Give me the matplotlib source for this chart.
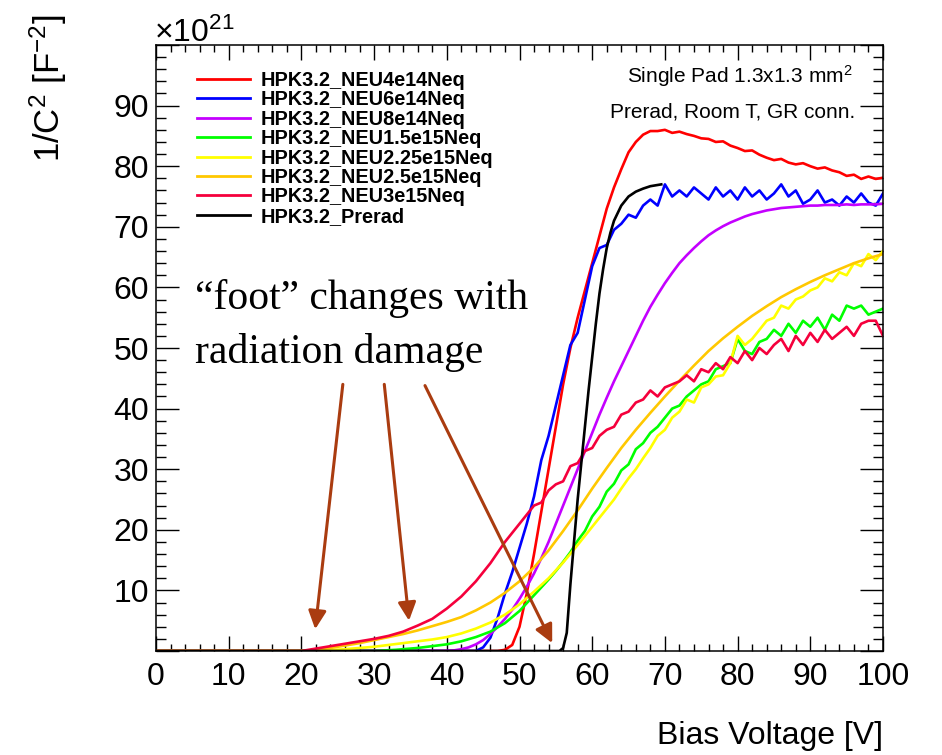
import matplotlib
matplotlib.use("Agg")
import matplotlib.pyplot as plt
from matplotlib.ticker import MultipleLocator, FixedLocator, FixedFormatter
import numpy as np

plt.rcParams['font.family'] = ['Liberation Sans', 'DejaVu Sans']
plt.rcParams['mathtext.fontset'] = 'custom'
plt.rcParams['mathtext.rm'] = 'Liberation Sans'
plt.rcParams['mathtext.it'] = 'Liberation Sans:italic'
plt.rcParams['mathtext.bf'] = 'Liberation Sans:bold'

# ---------------- data ----------------
labels = ["HPK3.2_NEU4e14Neq", "HPK3.2_NEU6e14Neq", "HPK3.2_NEU8e14Neq",
          "HPK3.2_NEU1.5e15Neq", "HPK3.2_NEU2.25e15Neq", "HPK3.2_NEU2.5e15Neq",
          "HPK3.2_NEU3e15Neq", "HPK3.2_Prerad"]
colors = ["#ff0000", "#0000ff", "#c400ff", "#00ff00", "#ffff00", "#ffc800",
          "#f5003c", "#000000"]

v_4e14 = [0] + list(range(47, 101))
y_4e14 = [0, 0, 0.2, 1, 4, 9.5, 16, 23, 30, 37, 44, 50, 55, 59.5, 64, 68.5,
          73, 76.5, 79.5, 82.3, 84, 85.2, 85.8, 85.8, 86, 85.5, 85.7, 85.3,
          85.0, 84.6, 84.5, 84.0, 84.1, 83.4, 83.0, 82.5, 82.6, 81.9, 81.4,
          81.0, 81.2, 80.6, 80.3, 80.5, 80.0, 79.6, 79.8, 79.3, 79.0, 78.4,
          78.6, 77.9, 78.3, 77.9, 78.1]

v_6e14 = [0] + list(range(44, 101))
y_6e14 = [0, 0, 0.6, 2.2, 5.5, 9.5, 13, 17, 21, 25.5, 31.5, 35.5, 40.5, 45.5,
          50.5, 52.5, 58, 63.5, 66.5, 67, 69.5, 70.5, 72, 71.5, 73.5, 74.5,
          73.5, 77, 75, 76, 75, 76.5, 75.5, 74.5, 76.5, 75, 76, 74.5, 76.5,
          75, 76, 74.5, 75.5, 77, 75, 76, 73.8, 74.5, 76, 74, 74.5, 73.5, 75,
          74, 75.5, 74, 73.5, 75.5]

v_8e14 = [0] + list(range(40, 101))
y_8e14 = [0, 0, 0.1, 0.3, 0.6, 1.1, 1.8, 2.8, 4, 5.3, 6.8, 8.6, 10.6, 12.8,
          15.3, 18, 21, 24, 27, 30, 33, 36, 39, 41.8, 44.5, 47, 49.5, 52,
          54.5, 56.8, 58.8, 60.7, 62.4, 64, 65.3, 66.5, 67.6, 68.6, 69.4,
          70.1, 70.7, 71.2, 71.7, 72.1, 72.4, 72.7, 72.9, 73.1, 73.2, 73.3,
          73.4, 73.5, 73.5, 73.6, 73.6, 73.6, 73.7, 73.6, 73.7, 73.7, 73.7,
          73.8]

v_1p5e15 = [0, 30, 33, 36, 38, 40, 42, 44, 46, 48, 50, 52, 54] + list(range(55, 101))
y_1p5e15 = [0, 0, 0.2, 0.5, 0.8, 1.1, 1.6, 2.3, 3.2, 4.6, 6.6, 9.2, 11.8,
            13.2, 14.7, 16.3, 18.2, 19.8, 22.2, 23.8, 26.3, 27.6, 29.8, 30.8,
            33.3, 34.3, 36, 37, 38.5, 40, 40.5, 42, 43, 44, 44.5, 46.5, 47,
            47.5, 51.5, 49.5, 49, 51, 51.5, 53, 52, 54, 52.5, 54.5, 53.5, 55,
            53, 55.5, 54.5, 57, 56.5, 57, 55.5, 56, 56.5]

v_2p25e15 = [0] + list(range(22, 61, 2)) + list(range(61, 101))
y_2p25e15 = [0, 0, 0.15, 0.3, 0.5, 0.7, 1, 1.3, 1.6, 1.9, 2.3, 2.9, 3.7, 4.7,
             6, 7.7, 9.8, 12, 14.6, 17.5, 20.5, 22, 23.5, 25, 26.8, 28.5, 30,
             31.8, 33.5, 35.5, 36.5, 38.5, 39.5, 41.5, 41, 43.5, 44, 45.3,
             45.5, 47.5, 52, 50.5, 51.5, 53, 54.5, 55, 57, 56.5, 58, 58.5,
             59.5, 60, 61.5, 61, 62.5, 62, 64, 63.5, 65.5, 64.5, 66]

v_2p5e15 = [0] + list(range(20, 101, 2))
y_2p5e15 = [0, 0, 0.2, 0.5, 0.9, 1.3, 1.8, 2.3, 2.8, 3.4, 4.1, 4.8, 5.6, 6.7,
            8, 9.6, 11.5, 13.8, 16.6, 19.8, 23.2, 26.8, 30.2, 33.5, 36.5,
            39.3, 42, 44.6, 47.1, 49.5, 51.6, 53.5, 55.3, 56.9, 58.4, 59.7,
            60.9, 62, 63, 64, 64.8, 65.5]

v_3e15 = [0] + list(range(20, 51, 2)) + list(range(51, 101))
y_3e15 = [0, 0, 0.4, 0.8, 1.2, 1.6, 2, 2.5, 3.2, 4.2, 5.3, 7, 9, 11.5, 14.5,
          18, 21, 22.5, 24, 24.5, 26.5, 27.5, 28, 30.5, 31, 33, 33.5, 35.5,
          36.5, 37, 39, 39.5, 41, 41.5, 43, 42, 43.5, 44, 44.5, 45.5, 44.5,
          46.5, 46, 47.5, 46.5, 48.5, 47.5, 49.5, 48, 50, 49, 50.5, 51.5,
          49.5, 52, 50.5, 52.5, 51, 53, 51.5, 52.5, 53.5, 52, 54, 54.5, 54.5,
          52]

v_prerad = [0, 55.5, 56, 56.5, 57, 57.5, 58, 58.5, 59, 59.5, 60, 60.5, 61,
            61.5, 62, 62.5, 63, 64, 65, 66, 67, 68, 69, 69.5]
y_prerad = [0, 0, 0.5, 3, 11, 18, 25, 31, 37, 43, 48.5, 54, 59, 63, 66.5, 69,
            71, 73.5, 75, 75.8, 76.3, 76.7, 76.9, 77]

x_ticks = list(range(0, 101, 10))
x_ticklabels = [str(t) for t in x_ticks]
y_ticks = list(range(0, 101, 10))
y_ticklabels = ["", "10", "20", "30", "40", "50", "60", "70", "80", "90", ""]

series = [(v_4e14, y_4e14), (v_6e14, y_6e14), (v_8e14, y_8e14),
          (v_1p5e15, y_1p5e15), (v_2p25e15, y_2p25e15), (v_2p5e15, y_2p5e15),
          (v_3e15, y_3e15), (v_prerad, y_prerad)]

# annotation arrows (start, end) in data units
arrows = [((25.7, 44.0), (21.9, 3.6)),
          ((31.4, 44.0), (34.8, 5.0)),
          ((37.0, 43.8), (54.5, 1.3))]

# ---------------- figure ----------------
W, H = 942, 755
fig = plt.figure(figsize=(W / 100, H / 100), dpi=100)
ax = fig.add_axes([156 / W, 1 - 651 / H, (883 - 156) / W, (651 - 45) / H])

handles = []
for (v, y), c, lab in zip(series, colors, labels):
    h, = ax.plot(v, y, color=c, lw=1.9, label=lab, solid_joinstyle='round')
    handles.append(h)

ax.set_xlim(0, 100)
ax.set_ylim(0, 100)
ax.xaxis.set_major_locator(FixedLocator(x_ticks))
ax.xaxis.set_major_formatter(FixedFormatter(x_ticklabels))
ax.xaxis.set_minor_locator(MultipleLocator(2))
ax.yaxis.set_major_locator(FixedLocator(y_ticks))
ax.yaxis.set_major_formatter(FixedFormatter(y_ticklabels))
ax.yaxis.set_minor_locator(MultipleLocator(2))

ax.tick_params(axis='both', which='both', direction='in', top=True, right=True,
               width=1.0, colors='black', labelsize=23)
ax.tick_params(axis='x', which='major', length=11, pad=8)
ax.tick_params(axis='x', which='minor', length=5)
ax.tick_params(axis='y', which='major', length=16.5, pad=5)
ax.tick_params(axis='y', which='minor', length=7)
for s in ax.spines.values():
    s.set_linewidth(1.1)

# legend
leg = ax.legend(handles=handles, loc='upper left',
                bbox_to_anchor=(197 / W, 1 - 71 / H),
                bbox_transform=fig.transFigure, frameon=False,
                prop={'weight': 'bold', 'size': 14.3}, handlelength=2.65,
                handletextpad=0.55, labelspacing=0.02, borderpad=0,
                borderaxespad=0)
for lh in leg.get_lines():
    lh.set_linewidth(2.0)

# top-right notes
fig.text(852 / W, 1 - 76 / H, "Single Pad 1.3x1.3 mm$^{2}$", ha='right',
         va='center', fontsize=15)
fig.text(855 / W, 1 - 112 / H, "Prerad, Room T, GR conn.", ha='right',
         va='center', fontsize=15)

# axis titles
fig.text(883 / W, 1 - 736 / H, "Bias Voltage [V]", ha='right', va='center',
         fontsize=23)
fig.text(48 / W, 1 - 14 / H, "1/C$^{2}$ [F$^{-2}$]", ha='center', va='top',
         rotation=90, fontsize=25)
fig.text(154 / W, 1 - 42 / H, "$\\times$10$^{21}$", ha='left', va='baseline',
         fontsize=23)

# annotation
ax.text(5.3, 56.5, "\u201cfoot\u201d changes with", fontsize=30,
        family=['Liberation Serif', 'DejaVu Serif'], ha='left', va='baseline')
ax.text(5.3, 47.5, "radiation damage", fontsize=30,
        family=['Liberation Serif', 'DejaVu Serif'], ha='left', va='baseline')
for (x0, y0), (x1, y1) in arrows:
    ax.annotate('', xy=(x1, y1), xytext=(x0, y0),
                arrowprops=dict(arrowstyle='-|>,head_length=0.55,head_width=0.27',
                                mutation_scale=20, lw=2.2, color='#aa3c10',
                                shrinkA=0, shrinkB=0))

fig.savefig("out.png", dpi=100)
